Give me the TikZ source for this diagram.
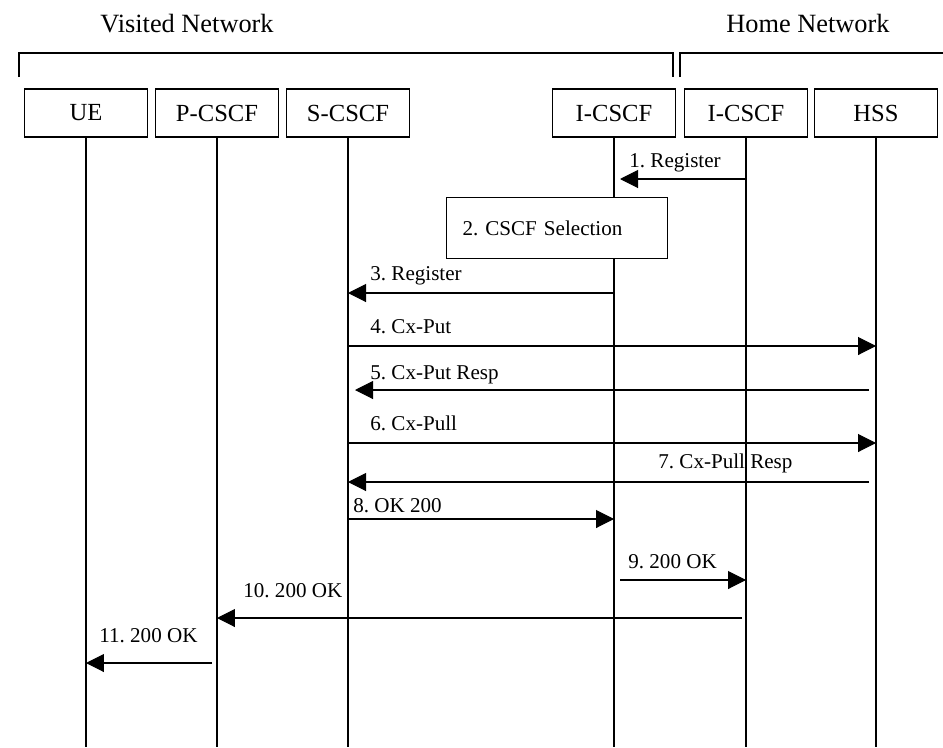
\documentclass[tikz,border=0pt]{standalone}
\usepackage{fontspec}
\setmainfont{Liberation Serif}
\usetikzlibrary{arrows.meta}
\frenchspacing

\begin{document}
\begin{tikzpicture}[
		x=0.02cm, y=-0.02cm,
		entity/.style={draw, line width=0.6pt, minimum width=2.46cm, minimum height=0.96cm, inner sep=0pt, font=\fontsize{14}{16}\selectfont},
		life/.style={line width=0.6pt},
		msg/.style={line width=0.6pt, -{Triangle[length=0.36cm, width=0.36cm]}},
		lbl/.style={anchor=base west, inner sep=0pt, font=\fontsize{12}{14}\selectfont},
		net/.style={anchor=base, inner sep=0pt, font=\fontsize{15}{17}\selectfont},
	]
	\useasboundingbox (0,0) rectangle (943,747);

	% Network titles and brackets
	\node[net] (visited) at (187,32) {Visited Network};
	\node[net] (home) at (808,32) {Home Network};
	\draw[life] (19,77) -- (19,53) -- (673,53) -- (673,77);
	\draw[life] (680,77) -- (680,53) -- (943,53);

	% Entities
	\node[entity] (ue) at (86,113) {UE};
	\node[entity] (pcscf) at (217,113) {P-CSCF};
	\node[entity] (scscf) at (348,113) {S-CSCF};
	\node[entity] (icscfv) at (614,113) {I-CSCF};
	\node[entity] (icscfh) at (746,113) {I-CSCF};
	\node[entity] (hss) at (876,113) {HSS};

	% Lifelines
	\draw[life] (ue.south) -- (ue.south |- 0,747);
	\draw[life] (pcscf.south) -- (pcscf.south |- 0,747);
	\draw[life] (scscf.south) -- (scscf.south |- 0,747);
	\draw[life] (icscfv.south) -- (icscfv.south |- 0,747);
	\draw[life] (icscfh.south) -- (icscfh.south |- 0,747);
	\draw[life] (hss.south) -- (hss.south |- 0,747);

	% Step 2 box
	\node[draw, fill=white, line width=0.6pt, anchor=north west, text width=3.78cm, inner xsep=0.32cm, inner ysep=0pt,
		minimum height=1.22cm, align=left, font=\fontsize{12}{14}\selectfont] (select) at (446,197) {2. CSCF Selection};

	% Messages
	\draw[msg, shorten >=0.12cm] (icscfh.south |- 0,179) -- (icscfv.south |- 0,179);
	\node[lbl] (m1) at (629,167) {1. Register};

	\draw[msg] (icscfv.south |- 0,293) -- (scscf.south |- 0,293);
	\node[lbl] (m3) at (370,280) {3. Register};

	\draw[msg] (scscf.south |- 0,346) -- (hss.south |- 0,346);
	\node[lbl] (m4) at (370,333) {4. Cx-Put};

	\draw[msg, shorten <=0.14cm, shorten >=0.14cm] (hss.south |- 0,390) -- (scscf.south |- 0,390);
	\node[lbl] (m5) at (370,379) {5. Cx-Put Resp};

	\draw[msg] (scscf.south |- 0,443) -- (hss.south |- 0,443);
	\node[lbl] (m6) at (370,430) {6. Cx-Pull};

	\draw[msg, shorten <=0.14cm] (hss.south |- 0,482) -- (scscf.south |- 0,482);
	\node[lbl] (m7) at (658,468) {7. Cx-Pull Resp};

	\draw[msg] (scscf.south |- 0,519) -- (icscfv.south |- 0,519);
	\node[lbl] (m8) at (353,512) {8. OK 200};

	\draw[msg, shorten <=0.12cm] (icscfv.south |- 0,580) -- (icscfh.south |- 0,580);
	\node[lbl] (m9) at (628,568) {9. 200 OK};

	\draw[msg, shorten <=0.08cm] (icscfh.south |- 0,618) -- (pcscf.south |- 0,618);
	\node[lbl] (m10) at (243,597) {10. 200 OK};

	\draw[msg, shorten <=0.1cm] (pcscf.south |- 0,663) -- (ue.south |- 0,663);
	\node[lbl] (m11) at (99,642) {11. 200 OK};
\end{tikzpicture}
\end{document}
